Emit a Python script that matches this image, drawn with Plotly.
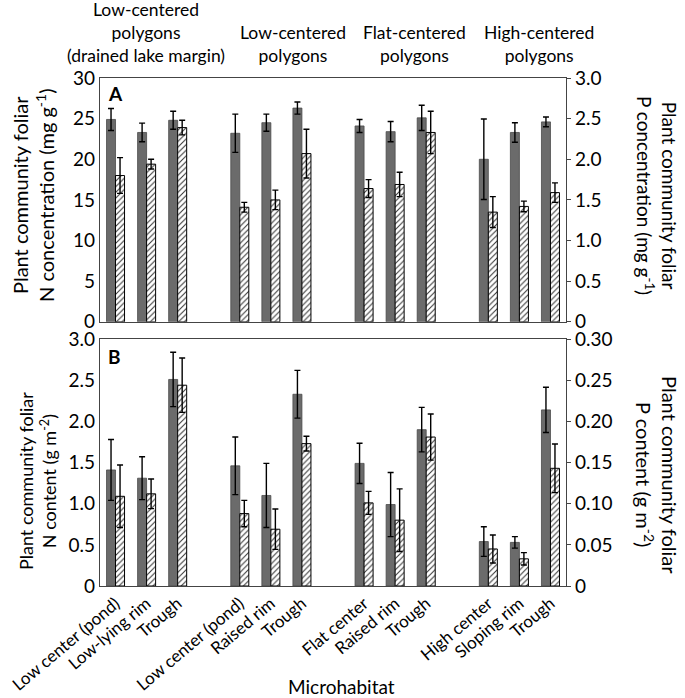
import plotly.graph_objects as go

microhabitats = ["Low center (pond)", "Low-lying rim", "Trough",
                 "Low center (pond)", "Raised rim", "Trough",
                 "Flat center", "Raised rim", "Trough",
                 "High center", "Sloping rim", "Trough"]
group_labels = ["Low-centered<br>polygons<br>(drained lake margin)",
                "Low-centered<br>polygons",
                "Flat-centered<br>polygons",
                "High-centered<br>polygons"]
per_group = 3

# Panel A: foliar concentrations
N_conc = [24.9, 23.3, 24.8, 23.2, 24.5, 26.3, 24.1, 23.4, 25.1, 20.0, 23.3, 24.6]
N_conc_err = [1.35, 1.15, 1.1, 2.35, 1.05, 0.75, 0.8, 1.25, 1.55, 4.95, 1.2, 0.6]
P_conc = [1.80, 1.94, 2.39, 1.41, 1.50, 2.07, 1.64, 1.69, 2.33, 1.35, 1.42, 1.59]
P_conc_err = [0.22, 0.06, 0.09, 0.06, 0.12, 0.30, 0.11, 0.15, 0.26, 0.19, 0.065, 0.12]
# Panel B: foliar content
N_cont = [1.41, 1.31, 2.51, 1.46, 1.10, 2.33, 1.49, 0.99, 1.90, 0.54, 0.53, 2.14]
N_cont_err = [0.37, 0.26, 0.33, 0.35, 0.39, 0.29, 0.245, 0.39, 0.27, 0.18, 0.07, 0.275]
P_cont = [0.109, 0.112, 0.244, 0.088, 0.069, 0.173, 0.101, 0.080, 0.181, 0.045, 0.033, 0.143]
P_cont_err = [0.038, 0.018, 0.033, 0.016, 0.0245, 0.009, 0.014, 0.038, 0.028, 0.017, 0.0075, 0.0295]

left_A_ticks = [0, 5, 10, 15, 20, 25, 30]
right_A_ticks = ["0", "0.5", "1.0", "1.5", "2.0", "2.5", "3.0"]
left_B_ticks = ["0", "0.5", "1.0", "1.5", "2.0", "2.5", "3.0"]
right_B_ticks = ["0", "0.05", "0.10", "0.15", "0.20", "0.25", "0.30"]

# slot positions: one empty slot between groups
pos = [(i // per_group) * (per_group + 1) + (i % per_group) for i in range(len(microhabitats))]

FONT = "Lato, Open Sans, sans-serif"
DARK = "#6b6b6b"
BW = 0.29

def n_bar(y, err, xa, ya):
    return go.Bar(x=pos, y=y, width=BW, offset=-BW, xaxis=xa, yaxis=ya,
                  marker=dict(color=DARK, line=dict(color="#4a4a4a", width=0.8)),
                  error_y=dict(type="data", array=err, color="black", thickness=1.4, width=3),
                  showlegend=False)

def p_bar(y, err, xa, ya):
    return go.Bar(x=pos, y=y, width=BW, offset=0, xaxis=xa, yaxis=ya,
                  marker=dict(color="white", line=dict(color="black", width=1),
                              pattern=dict(shape="/", fgcolor="#333333", bgcolor="white",
                                           size=4, solidity=0.25)),
                  error_y=dict(type="data", array=err, color="black", thickness=1.4, width=3),
                  showlegend=False)

fig = go.Figure()
fig.add_trace(n_bar(N_conc, N_conc_err, "x", "y"))
fig.add_trace(p_bar(P_conc, P_conc_err, "x", "y2"))
fig.add_trace(n_bar(N_cont, N_cont_err, "x2", "y3"))
fig.add_trace(p_bar(P_cont, P_cont_err, "x2", "y4"))

ax_common = dict(showline=True, linecolor="#444", linewidth=1.2, showgrid=False,
                 zeroline=False, automargin=False,
                 tickfont=dict(size=19, color="black", family=FONT))
xr = [-0.5, max(pos) + 0.5]

fig.update_layout(
    template="none",
    width=685, height=698,
    margin=dict(l=100, r=119, t=78, b=112, autoexpand=False),
    paper_bgcolor="white", plot_bgcolor="white",
    font=dict(family=FONT, color="black"),
    barmode="group",
    xaxis=dict(domain=[0, 1], anchor="y", range=xr, showticklabels=False, ticks="",
               mirror=True, **ax_common),
    xaxis2=dict(domain=[0, 1], anchor="y3", range=xr, tickvals=pos, ticktext=microhabitats,
                tickangle=-40, ticks="", mirror=True, ticklabeloverflow="allow",
                **{k: v for k, v in ax_common.items() if k != "tickfont"},
                tickfont=dict(size=17, color="black", family=FONT)),
    yaxis=dict(domain=[0.52, 1], anchor="x", range=[0, 30], tickvals=left_A_ticks,
               ticks="", mirror=True, **ax_common),
    yaxis2=dict(overlaying="y", side="right", anchor="x", range=[0, 3],
                tickvals=[float(t) for t in right_A_ticks], ticktext=right_A_ticks,
                ticks="outside", ticklen=4, tickcolor="#444", **ax_common),
    yaxis3=dict(domain=[0, 0.486], anchor="x2", range=[0, 3],
                tickvals=[float(t) for t in left_B_ticks], ticktext=left_B_ticks,
                ticks="", mirror=True, **ax_common),
    yaxis4=dict(overlaying="y3", side="right", anchor="x2", range=[0, 0.3],
                tickvals=[float(t) for t in right_B_ticks], ticktext=right_B_ticks,
                ticks="outside", ticklen=4, tickcolor="#444", **ax_common),
)

def px(X):
    return (X - 100) / 466

def py(Y):
    return (586 - Y) / 508

ann = []
ann.append(dict(text="<b>A</b>", x=px(106), y=py(80), xref="paper", yref="paper",
                xanchor="left", yanchor="top", showarrow=False, font=dict(size=19)))
ann.append(dict(text="<b>B</b>", x=px(106), y=py(343), xref="paper", yref="paper",
                xanchor="left", yanchor="top", showarrow=False, font=dict(size=19)))
for txt, X, Y, ang, fs in [
    ("Plant community foliar<br>N concentration (mg g<sup>-1</sup>)", 33, 196, -90, 20),
    ("Plant community foliar<br>N content (g m<sup>-2</sup>)", 37, 481, -90, 18),
    ("Plant community foliar<br>P concentration (mg g<sup>-1</sup>)", 657, 195, 90, 19),
    ("Plant community foliar<br>P content (g m<sup>-2</sup>)", 657, 475, 90, 20),
]:
    ann.append(dict(text=txt, x=px(X), y=py(Y), xref="paper", yref="paper", textangle=ang,
                    xanchor="center", yanchor="middle", showarrow=False,
                    font=dict(size=fs, family=FONT, color="black")))
gx = [146, 293, 414, 539]
for g, lab in enumerate(group_labels):
    ann.append(dict(text=lab, x=px(gx[g]), y=py(68), xref="paper", yref="paper",
                    xanchor="center", yanchor="bottom", showarrow=False,
                    font=dict(size=17.5, family=FONT, color="black")))
ann.append(dict(text="Microhabitat", x=px(341), y=py(686), xref="paper", yref="paper",
                xanchor="center", yanchor="middle", showarrow=False,
                font=dict(size=19, family=FONT, color="black")))
fig.update_layout(annotations=ann)

# remove the default 8 px page margin so the figure fills the window exactly
fig.write_html("out.html", config={"displayModeBar": False},
               post_script="document.body.style.margin='0';")
